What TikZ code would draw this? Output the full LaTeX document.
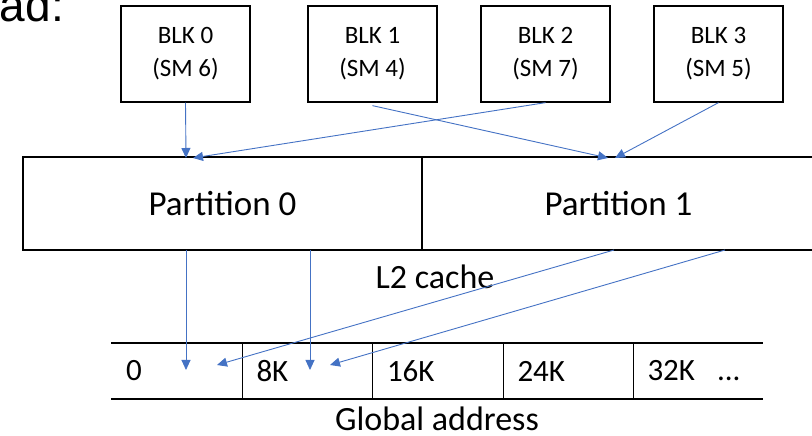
\documentclass[tikz,border=0pt]{standalone}
\usepackage{fontspec}
\setmainfont{Carlito}
\newfontfamily\arialfont{Liberation Sans}
\usetikzlibrary{arrows.meta,positioning,calc}

\definecolor{flowblue}{RGB}{68,114,196}

\tikzset{
    blkbox/.style={draw, line width=1.3pt, minimum width=129pt, minimum height=96pt, align=center, font=\fontsize{25}{33}\selectfont},
    partbox/.style={draw, line width=1.3pt, minimum height=93pt, font=\fontsize{35}{42}\selectfont},
    addrcell/.style={minimum height=56pt, text width=101pt, inner xsep=14pt, align=left, font=\fontsize{31}{36}\selectfont},
    flow/.style={draw=flowblue, line width=0.9pt, -{Triangle[length=10pt,width=9pt]}},
}

\begin{document}
\begin{tikzpicture}[x=1pt, y=1pt]
    \useasboundingbox (0,0) rectangle (812,436);

    % cut-off heading
    \node[anchor=base east, inner sep=0pt, font=\arialfont\fontsize{46}{50}\selectfont] (head) at (64,414) {ad:};

    % thread blocks
    \foreach \i/\s/\x in {0/6/185.5, 1/4/372.5, 2/7/545.5, 3/5/718.5} {
        \node[blkbox] (blk\i) at (\x,382) {BLK \i\\(SM \s)};
    }

    % L2 partitions
    \node[partbox, minimum width=399pt] (part0) at (222.5,232.5) {Partition 0};
    \node[partbox, minimum width=393pt] (part1) at (618.5,232.5) {Partition 1};
    \node[font=\fontsize{34}{40}\selectfont] (l2) at (435,159) {L2 cache};

    % address row
    \foreach \i/\x/\t in {0/176.5/0, 1/307/8K, 2/437.5/16K, 3/568/24K, 4/698/{32K\hspace{22pt}{...}}} {
        \node[addrcell] (cell\i) at (\x,65) {\t};
    }
    \draw[line width=1.3pt] (111,93) -- (763,93);
    \draw[line width=1.3pt] (111,37) -- (763,37);
    \foreach \x in {242,372,503,633} {
        \draw[line width=1pt] (\x,93) -- (\x,37);
    }
    \node[font=\fontsize{34}{40}\selectfont] (glob) at (437,17) {Global address};

    % arrow end points
    \coordinate (in0a) at (186,278);
    \coordinate (in0b) at (193,278);
    \coordinate (in1a) at (608,278);
    \coordinate (in1b) at (615,278);
    \coordinate (out0a) at (186,186);
    \coordinate (out0b) at (310,186);
    \coordinate (out1a) at (614,186);
    \coordinate (out1b) at (725,186);
    \coordinate (to0a) at (186,66);
    \coordinate (to0b) at (217,71);
    \coordinate (to1a) at (310,66);
    \coordinate (to1b) at (330,71);

    % blocks to partitions
    \draw[flow] (blk0.south) -- (in0a);
    \draw[flow] (blk2.south) -- (in0b);
    \draw[flow] ([yshift=-3pt]blk1.south) -- (in1a);
    \draw[flow] (blk3.south) -- (in1b);

    % partitions to addresses
    \draw[flow] (out0a) -- (to0a);
    \draw[flow] (out1a) -- (to0b);
    \draw[flow] (out0b) -- (to1a);
    \draw[flow] (out1b) -- (to1b);
\end{tikzpicture}
\end{document}
